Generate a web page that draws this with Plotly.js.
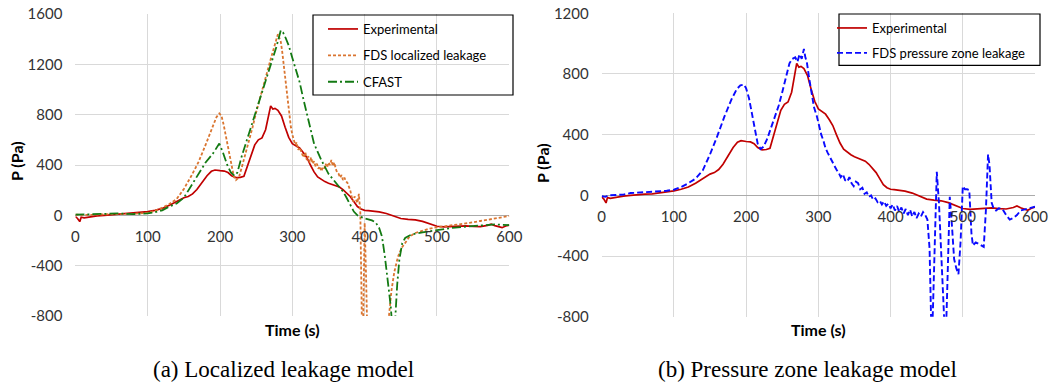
<!DOCTYPE html>
<html>
<head>
<meta charset="utf-8">
<script src="https://cdn.plot.ly/plotly-3.0.1.min.js"></script>
<style>html,body{margin:0;padding:0;background:#fff}#chart{width:1056px;height:383px}</style>
</head>
<body>
<div id="chart"></div>
<script>
// ---------- data ----------
const expT = [0,3,6,8,12,20,30,40,50,60,70,80,90,100,110,120,130,140,150,156,162,168,175,182,188,193,200,206,211,216,222,228,233,238,243,248,253,258,263,267,270,273,276,280,285,290,295,300,305,310,315,320,325,330,335,340,345,350,355,360,365,370,375,380,385,390,395,400,405,410,415,420,430,440,450,460,470,480,490,500,510,520,530,540,550,560,570,575,580,585,590,595,600];
const expP = [-10,-25,-50,-15,-20,-12,-5,0,5,8,10,15,22,30,40,55,80,110,140,150,170,205,260,315,350,360,355,352,340,315,300,302,310,390,470,560,600,615,680,800,870,845,850,835,790,700,620,570,555,535,500,460,400,345,305,285,268,255,245,237,225,205,180,150,110,70,50,40,38,35,33,28,15,-3,-25,-32,-36,-48,-70,-87,-92,-88,-86,-83,-88,-90,-80,-70,-82,-90,-98,-85,-78];

const fdsLocT = [0,20,40,60,80,100,110,120,130,140,150,160,170,180,190,195,199,202,205,210,215,219,222,226,230,235,240,245,250,255,260,265,270,275,278,280,282,284,286,288,290,292,294,296,298,300,302,304,306,308,310,312,314,316,318,320,322,324,326,328,330,332,334,336,338,340,342,344,346,348,350,352,354,356,358,360,362,364,366,368,370,372,374,376,378,380,382,384,386,390,392,394,397,399,400,402,405,420,430,433,437,441,446,451,456,462,470,480,490,500,515,530,545,560,575,590,600];
const fdsLocP = [5,3,8,10,12,20,35,60,90,130,210,310,420,560,710,780,810,790,720,570,420,310,280,300,380,480,590,700,820,930,1040,1140,1240,1340,1400,1440,1410,1380,1300,1200,1100,1000,880,780,700,640,600,560,580,520,540,500,480,460,500,440,470,420,460,410,430,390,410,370,390,350,380,370,410,380,420,400,440,390,420,370,340,330,300,320,280,300,270,260,230,200,150,110,150,100,170,20,-1200,-400,-60,-500,-1300,-1600,-1000,-800,-600,-450,-330,-260,-220,-170,-140,-120,-105,-95,-85,-75,-60,-45,-30,-15,-5];

const cfastT = [0,20,40,50,60,80,100,110,120,130,140,150,160,170,180,190,199,204,210,215,220,224,230,240,250,260,270,278,284,287,290,295,300,305,310,315,320,325,330,340,350,360,370,375,380,385,390,395,400,410,415,420,424,428,432,436,439,442,445,448,452,456,462,470,480,490,500,520,540,560,580,590,600];
const cfastP = [5,8,12,18,15,10,15,25,40,70,95,140,230,320,420,490,570,500,400,340,315,340,470,650,830,1010,1190,1340,1470,1455,1420,1350,1250,1150,1060,930,800,690,570,440,330,260,190,140,80,30,0,-15,-25,-40,-55,-100,-170,-330,-520,-720,-950,-850,-550,-350,-220,-180,-160,-145,-135,-125,-115,-100,-90,-80,-72,-75,-78];

const fdsZoneT = [0,5,10,20,30,40,50,60,70,80,90,100,110,120,130,140,150,160,170,180,187,192,197,200,204,208,212,216,220,224,229,235,240,245,250,255,260,264,268,271,274,277,280,282,284,287,290,294,298,301,304,307,310,313,316,319,322,325,328,331,334,337,340,343,346,349,352,355,358,361,364,367,370,373,376,379,382,385,388,391,394,397,400,403,406,409,412,415,418,421,424,427,430,433,436,439,442,445,448,451,454,457,459,461,464,467,470,473,476,478,480,482,485,488,491,494,497,500,503,506,509,512,514,518,522,526,529,532,535,537,540,543,546,550,555,560,565,570,575,580,585,590,595,600];
const fdsZoneP = [-5,-10,0,2,5,15,18,20,22,25,30,37,55,80,110,165,270,390,520,635,700,725,730,705,640,540,430,340,305,320,370,450,520,590,680,780,870,900,910,880,930,900,965,910,880,780,680,580,520,450,400,360,310,280,250,230,190,170,150,120,140,100,90,120,80,60,90,80,40,50,10,20,-10,0,-30,-20,-45,-35,-60,-40,-70,-55,-85,-60,-100,-70,-110,-80,-120,-90,-130,-95,-140,-110,-150,-120,-140,-110,-130,-160,-350,-1000,-700,-300,155,-50,-400,-800,-1000,-700,-300,-10,-200,-420,-480,-520,-300,60,40,40,35,-250,-330,-310,-320,-330,-340,-100,270,200,-50,-90,-100,-85,-90,-130,-160,-150,-130,-100,-95,-90,-85,-75];

const xTickVals = [0,100,200,300,400,500,600];
const xTickText = ['0','100','200','300','400','500','600'];
const yTickValsA = [-800,-400,0,400,800,1200,1600];
const yTickTextA = ['-800','-400','0','400','800','1200','1600'];
const yTickValsB = [-800,-400,0,400,800,1200];
const yTickTextB = ['-800','-400','0','400','800','1200'];

const seriesNames = ['Experimental','FDS localized leakage','CFAST','FDS pressure zone leakage'];
const captions = ['(a) Localized leakage model','(b) Pressure zone leakage model'];
const axisTitleX = 'Time (s)';
const axisTitleY = 'P (Pa)';

// ---------- layout helpers (pixel -> paper) ----------
const W = 1056, H = 383;
const px = v => v / W;
const py = v => 1 - v / H;

const FONT = 'Lato, "Open Sans", sans-serif';
const RED = '#C00000', ORANGE = '#DA7530', GREEN = '#137A13', BLUE = '#0A0AFF';

const traces = [
  {x: expT, y: expP, xaxis:'x', yaxis:'y', name: seriesNames[0], mode:'lines', line:{color:RED, width:1.7}, legend:'legend', legendgroup:'a1'},
  {x: fdsLocT, y: fdsLocP, xaxis:'x', yaxis:'y', name: seriesNames[1], mode:'lines', line:{color:ORANGE, width:1.8, dash:'3px,2px'}, legend:'legend', legendgroup:'a2'},
  {x: cfastT, y: cfastP, xaxis:'x', yaxis:'y', name: seriesNames[2], mode:'lines', line:{color:GREEN, width:1.8, dash:'9px,3px,2px,3px'}, legend:'legend', legendgroup:'a3'},
  {x: expT, y: expP, xaxis:'x2', yaxis:'y2', name: seriesNames[0], mode:'lines', line:{color:RED, width:1.7}, legend:'legend2', legendgroup:'b1'},
  {x: fdsZoneT, y: fdsZoneP, xaxis:'x2', yaxis:'y2', name: seriesNames[3], mode:'lines', line:{color:BLUE, width:1.9, dash:'6px,3px'}, legend:'legend2', legendgroup:'b2'}
];

const tickFont = {family: FONT, size: 15, color: '#333'};
const gridColor = '#d9d9d9';

function xAxis(domain, yzeroPx) {
  return {
    domain: domain, range: [0, 600], anchor: 'free', position: py(yzeroPx),
    tickvals: xTickVals, ticktext: xTickText, tickfont: tickFont, ticks: '',
    showgrid: true, gridcolor: gridColor, gridwidth: 1, zeroline: false, showline: false,
    ticklabelstandoff: 11, fixedrange: true
  };
}
function yAxis(domain, range, vals, text, xname) {
  return {
    domain: domain, range: range, anchor: xname,
    tickvals: vals, ticktext: text, tickfont: tickFont, ticks: '',
    showgrid: true, gridcolor: gridColor, gridwidth: 1,
    zeroline: true, zerolinecolor: '#ababab', zerolinewidth: 1, showline: false,
    ticklabelstandoff: 12, fixedrange: true
  };
}

const legendBase = {
  xanchor: 'left', yanchor: 'top', bgcolor: 'rgba(0,0,0,0)', borderwidth: 0,
  font: {family: FONT, size: 13, color: '#000'}, traceorder: 'grouped'
};

const layout = {
  width: W, height: H,
  margin: {l: 0, r: 0, t: 0, b: 0},
  paper_bgcolor: '#fff', plot_bgcolor: '#fff',
  showlegend: true,
  xaxis: xAxis([px(75.4), px(509.3)], 215.3),
  yaxis: yAxis([py(316), py(14)], [-800, 1600], yTickValsA, yTickTextA, 'x'),
  xaxis2: xAxis([px(601.7), px(1035)], 195.3),
  yaxis2: yAxis([py(316.7), py(13.3)], [-800, 1200], yTickValsB, yTickTextB, 'x2'),
  legend: Object.assign({}, legendBase, {x: px(323), y: py(14), tracegroupgap: 6.5}),
  legend2: Object.assign({}, legendBase, {x: px(832), y: py(13), tracegroupgap: 5}),
  shapes: [
    {type:'rect', xref:'paper', yref:'paper', x0: px(313), x1: px(513), y0: py(95), y1: py(15), line:{color:'#000', width:1.2}, fillcolor:'rgba(0,0,0,0)', layer:'above'},
    {type:'rect', xref:'paper', yref:'paper', x0: px(839), x1: px(1040), y0: py(65.4), y1: py(14), line:{color:'#000', width:1.2}, fillcolor:'rgba(0,0,0,0)', layer:'above'}
  ],
  annotations: [
    {text: axisTitleY, xref:'paper', yref:'paper', x: px(16), y: py(161), textangle: -90, showarrow:false, xanchor:'center', yanchor:'middle', font:{family: FONT, size: 16, color:'#000', weight:'bold'}},
    {text: axisTitleY, xref:'paper', yref:'paper', x: px(542), y: py(163), textangle: -90, showarrow:false, xanchor:'center', yanchor:'middle', font:{family: FONT, size: 16, color:'#000', weight:'bold'}},
    {text: axisTitleX, xref:'paper', yref:'paper', x: px(292), y: py(329), showarrow:false, xanchor:'center', yanchor:'middle', font:{family: FONT, size: 16, color:'#000', weight:'bold'}},
    {text: axisTitleX, xref:'paper', yref:'paper', x: px(818), y: py(329), showarrow:false, xanchor:'center', yanchor:'middle', font:{family: FONT, size: 16, color:'#000', weight:'bold'}},
    {text: captions[0], xref:'paper', yref:'paper', x: px(283), y: py(369), showarrow:false, xanchor:'center', yanchor:'middle', font:{family:'"Liberation Serif", "Times New Roman", serif', size: 23, color:'#000'}},
    {text: captions[1], xref:'paper', yref:'paper', x: px(807), y: py(369), showarrow:false, xanchor:'center', yanchor:'middle', font:{family:'"Liberation Serif", "Times New Roman", serif', size: 23, color:'#000'}}
  ]
};

Plotly.newPlot('chart', traces, layout, {displayModeBar: false, staticPlot: true});
</script>
</body>
</html>
